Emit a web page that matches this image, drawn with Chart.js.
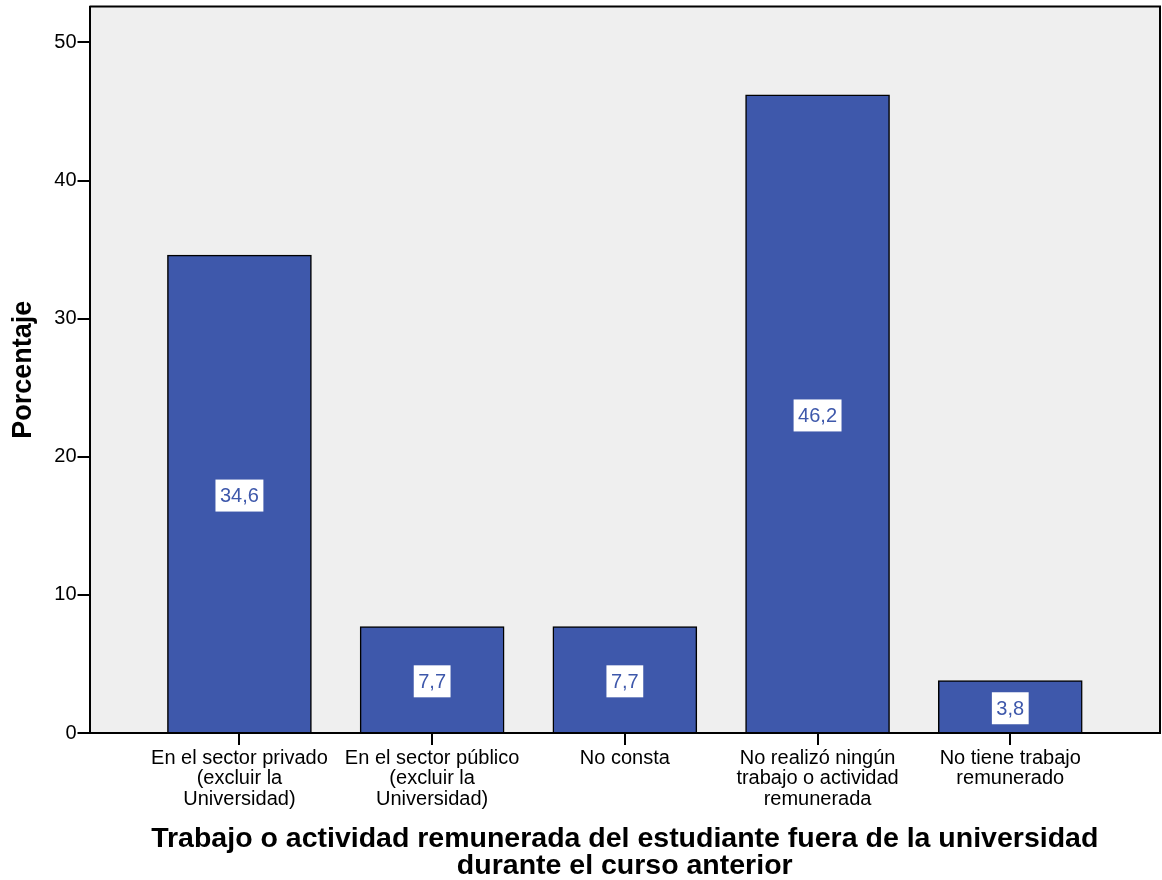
<!DOCTYPE html>
<html>
<head>
<meta charset="utf-8">
<script src="https://cdn.jsdelivr.net/npm/chart.js@4/dist/chart.umd.min.js"></script>
<style>
  html, body { margin: 0; padding: 0; background: #fff; }
  #wrap { width: 1162px; height: 880px; }
</style>
</head>
<body>
<div id="wrap"><canvas id="chart"></canvas></div>
<script>
// Categories and percentages
const categories = [
    ['En el sector privado', '(excluir la', 'Universidad)'],
    ['En el sector público', '(excluir la', 'Universidad)'],
    ['No consta'],
    ['No realizó ningún', 'trabajo o actividad', 'remunerada'],
    ['No tiene trabajo', 'remunerado']
];
const percentages = [34.6, 7.7, 7.7, 46.2, 3.8];
const yTicks = [0, 10, 20, 30, 40, 50];

const FONT = '"Liberation Sans", Arial, sans-serif';
const barColor = '#3e58ab';

// grey plot background plus top/right frame lines
const plotFrame = {
    id: 'plotFrame',
    beforeDraw(chart) {
        const { ctx, chartArea: a } = chart;
        ctx.save();
        ctx.fillStyle = '#efefef';
        ctx.fillRect(a.left, a.top, a.right - a.left, a.bottom - a.top);
        ctx.restore();
    },
    afterDraw(chart) {
        const { ctx, chartArea: a } = chart;
        ctx.save();
        ctx.strokeStyle = '#000';
        ctx.lineWidth = 2;
        ctx.beginPath();
        ctx.moveTo(a.left, a.top);
        ctx.lineTo(a.right, a.top);
        ctx.lineTo(a.right, a.bottom);
        ctx.stroke();
        ctx.restore();
    }
};

// value labels in white boxes at the middle of each bar
const valueBoxes = {
    id: 'valueBoxes',
    afterDatasetsDraw(chart) {
        const { ctx } = chart;
        const meta = chart.getDatasetMeta(0);
        ctx.save();
        ctx.font = '20px ' + FONT;
        ctx.textAlign = 'center';
        ctx.textBaseline = 'middle';
        meta.data.forEach((bar, i) => {
            const txt = percentages[i].toFixed(1).replace('.', ',');
            const cy = (bar.y + bar.base) / 2 + 2;
            const w = ctx.measureText(txt).width + 9;
            const h = 32;
            ctx.fillStyle = '#fff';
            ctx.fillRect(bar.x - w / 2, cy - h / 2, w, h);
            ctx.fillStyle = barColor;
            ctx.fillText(txt, bar.x, cy + 1);
        });
        ctx.restore();
    }
};

new Chart(document.getElementById('chart'), {
    type: 'bar',
    data: {
        datasets: [{
            data: percentages.map((v, i) => ({ x: i, y: v })),
            backgroundColor: barColor,
            borderColor: '#000',
            borderWidth: 1.5,
            barThickness: 144
        }]
    },
    options: {
        responsive: true,
        maintainAspectRatio: false,
        animation: false,
        devicePixelRatio: 1,
        layout: { padding: { left: 0, right: 2, top: 6.5, bottom: 0 } },
        plugins: {
            legend: { display: false },
            tooltip: { enabled: false }
        },
        scales: {
            x: {
                type: 'linear',
                offset: false,
                min: -0.778,
                max: 4.777,
                afterBuildTicks: scale => {
                    scale.ticks = categories.map((c, i) => ({ value: i }));
                },
                afterFit: scale => {
                    scale.height = 147;
                    scale.paddingLeft = 0;
                    scale.paddingRight = 0;
                },
                ticks: {
                    autoSkip: false,
                    maxRotation: 0,
                    color: '#000',
                    font: { family: FONT, size: 20, lineHeight: 1.03 },
                    padding: 3,
                    callback: v => categories[v]
                },
                grid: {
                    offset: false,
                    drawOnChartArea: false,
                    drawTicks: true,
                    tickLength: 12,
                    color: '#000',
                    lineWidth: 2
                },
                border: { display: true, color: '#000', width: 2 },
                title: {
                    display: true,
                    text: ['Trabajo o actividad remunerada del estudiante fuera de la universidad', 'durante el curso anterior'],
                    color: '#000',
                    font: { family: FONT, size: 28.5, weight: 'bold', lineHeight: 0.96 },
                    padding: { top: 10, bottom: 0 }
                }
            },
            y: {
                min: 0,
                max: 52.6,
                afterBuildTicks: scale => {
                    scale.ticks = yTicks.map(v => ({ value: v }));
                },
                afterFit: scale => {
                    scale.width = 89.5;
                    scale.paddingTop = 0;
                    scale.paddingBottom = 0;
                },
                ticks: {
                    color: '#000',
                    font: { family: FONT, size: 20 },
                    padding: 1
                },
                grid: {
                    drawOnChartArea: false,
                    drawTicks: true,
                    tickLength: 12,
                    color: '#000',
                    lineWidth: 2
                },
                border: { display: true, color: '#000', width: 2 },
                title: {
                    display: true,
                    text: 'Porcentaje',
                    color: '#000',
                    font: { family: FONT, size: 27, weight: 'bold' },
                    padding: { top: 7, bottom: 0 }
                }
            }
        }
    },
    plugins: [plotFrame, valueBoxes]
});
</script>
</body>
</html>
